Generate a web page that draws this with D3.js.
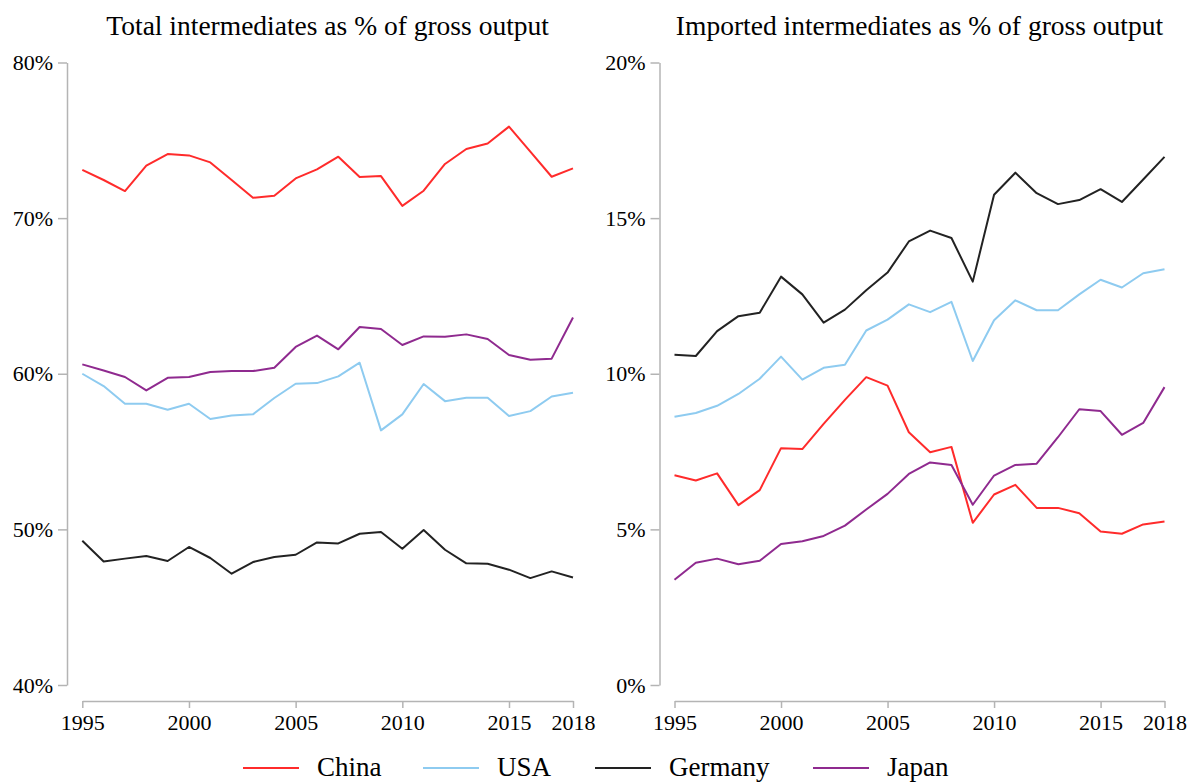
<!DOCTYPE html>
<html lang="en">
	<head>
		<meta charset="utf-8">
		<title>Intermediates as % of gross output</title>
		<script type="text/javascript" src="https://d3js.org/d3.v7.min.js"></script>
		<style type="text/css">
			body { margin: 0; background: #fff; }
			svg { display: block; font-family: "Liberation Serif", "Times New Roman", serif; }
			.axis path, .axis line { stroke: #b4b4b4; stroke-width: 1.5px; }
			.axis text { fill: #000; font-size: 22px; font-family: "Liberation Serif", serif; }
		</style>
	</head>
	<body>
		<script type="text/javascript">

			// Data
			var years = d3.range(1995, 2019);
			var countries = ["China", "USA", "Germany", "Japan"];
			var colors = ["#ff2b2b", "#8ecbf0", "#222222", "#8f2a8f"];
			var titles = ["Total intermediates as % of gross output", "Imported intermediates as % of gross output"];
			var xTicks = [1995, 2000, 2005, 2010, 2015, 2018];
			var yTicksTotal = [40, 50, 60, 70, 80];
			var yTicksImported = [0, 5, 10, 15, 20];

			// Total intermediates (% of gross output)
			var totalChina = [73.1, 72.45, 71.74, 73.37, 74.12, 74.03, 73.58, 72.45, 71.31, 71.44, 72.55, 73.13,
				73.95, 72.64, 72.7, 70.79, 71.76, 73.48, 74.44, 74.79, 75.88, 74.27, 72.66, 73.2];
			var totalUSA = [60.0, 59.21, 58.07, 58.07, 57.69, 58.07, 57.09, 57.32, 57.39, 58.44, 59.36, 59.4,
				59.83, 60.71, 56.36, 57.39, 59.34, 58.24, 58.46, 58.46, 57.28, 57.6, 58.54, 58.78];
			var totalGermany = [49.27, 47.94, 48.12, 48.29, 47.97, 48.87, 48.16, 47.15, 47.9, 48.22, 48.37, 49.16,
				49.1, 49.72, 49.83, 48.76, 49.96, 48.69, 47.82, 47.79, 47.41, 46.87, 47.3, 46.91];
			var totalJapan = [60.6, 60.21, 59.79, 58.93, 59.74, 59.79, 60.11, 60.17, 60.17, 60.39, 61.72, 62.45,
				61.57, 63.0, 62.88, 61.85, 62.4, 62.38, 62.53, 62.23, 61.2, 60.9, 60.97, 63.61];

			// Imported intermediates (% of gross output)
			var importedChina = [6.74, 6.57, 6.8, 5.78, 6.26, 7.61, 7.58, 8.39, 9.16, 9.89, 9.62, 8.12,
				7.48, 7.65, 5.21, 6.12, 6.43, 5.69, 5.69, 5.52, 4.93, 4.86, 5.16, 5.25];
			var importedUSA = [8.62, 8.74, 8.97, 9.35, 9.84, 10.55, 9.81, 10.19, 10.29, 11.39, 11.74, 12.23,
				11.98, 12.31, 10.41, 11.72, 12.36, 12.04, 12.04, 12.55, 13.02, 12.77, 13.23, 13.36];
			var importedGermany = [10.61, 10.57, 11.37, 11.85, 11.96, 13.12, 12.55, 11.64, 12.06, 12.68, 13.25, 14.25,
				14.6, 14.36, 12.96, 15.75, 16.46, 15.8, 15.45, 15.58, 15.93, 15.52, 16.24, 16.97];
			var importedJapan = [3.38, 3.93, 4.06, 3.88, 3.99, 4.53, 4.62, 4.79, 5.12, 5.64, 6.14, 6.78,
				7.15, 7.07, 5.79, 6.73, 7.07, 7.11, 7.96, 8.86, 8.8, 8.04, 8.42, 9.57];

			var w = 1190;
			var h = 783;

			var svg = d3.select("body")
				.append("svg")
				.attr("width", w)
				.attr("height", h);

			// panel settings: where each one sits on the page
			var panels = [
				{ title: titles[0], series: [totalChina, totalUSA, totalGermany, totalJapan],
				  yDomain: [40, 80], yTicks: yTicksTotal, xRange: [82.3, 573], yAxisX: 67 },
				{ title: titles[1], series: [importedChina, importedUSA, importedGermany, importedJapan],
				  yDomain: [0, 20], yTicks: yTicksImported, xRange: [674.5, 1164.5], yAxisX: 659.5 }
			];

			var yTop = 62.5, yBottom = 685, xAxisY = 701;

			panels.forEach(function(p) {
				var x = d3.scaleLinear().domain([1995, 2018]).range(p.xRange);
				var y = d3.scaleLinear().domain(p.yDomain).range([yBottom, yTop]);

				// title
				svg.append("text")
					.attr("x", (p.xRange[0] + p.xRange[1]) / 2)
					.attr("y", 35)
					.attr("text-anchor", "middle")
					.style("font-size", "27.5px")
					.style("fill", "#000")
					.text(p.title);

				// y axis (detached from the x axis)
				svg.append("g")
					.attr("class", "axis")
					.attr("transform", "translate(" + p.yAxisX + ",0)")
					.call(d3.axisLeft(y)
						.tickValues(p.yTicks)
						.tickFormat(function(d) { return d + "%"; })
						.tickSize(9)
						.tickSizeOuter(0)
						.tickPadding(5));

				// x axis
				svg.append("g")
					.attr("class", "axis")
					.attr("transform", "translate(0," + xAxisY + ")")
					.call(d3.axisBottom(x)
						.tickValues(xTicks)
						.tickFormat(d3.format("d"))
						.tickSize(7)
						.tickSizeOuter(0)
						.tickPadding(6));

				var line = d3.line()
					.x(function(d, i) { return x(years[i]); })
					.y(function(d) { return y(d); });

				p.series.forEach(function(s, i) {
					svg.append("path")
						.datum(s)
						.attr("fill", "none")
						.attr("stroke", colors[i])
						.attr("stroke-width", 2)
						.attr("stroke-linejoin", "round")
						.attr("d", line);
				});
			});

			// Legend at the bottom
			var legendX = [243, 423, 595, 813];
			var legend = svg.append("g").attr("class", "legend");
			countries.forEach(function(c, i) {
				legend.append("line")
					.attr("x1", legendX[i])
					.attr("x2", legendX[i] + 56)
					.attr("y1", 768)
					.attr("y2", 768)
					.attr("stroke", colors[i])
					.attr("stroke-width", 2);
				legend.append("text")
					.attr("x", legendX[i] + 74)
					.attr("y", 776)
					.style("font-size", "27px")
					.style("fill", "#000")
					.text(c);
			});

		</script>
	</body>
</html>
